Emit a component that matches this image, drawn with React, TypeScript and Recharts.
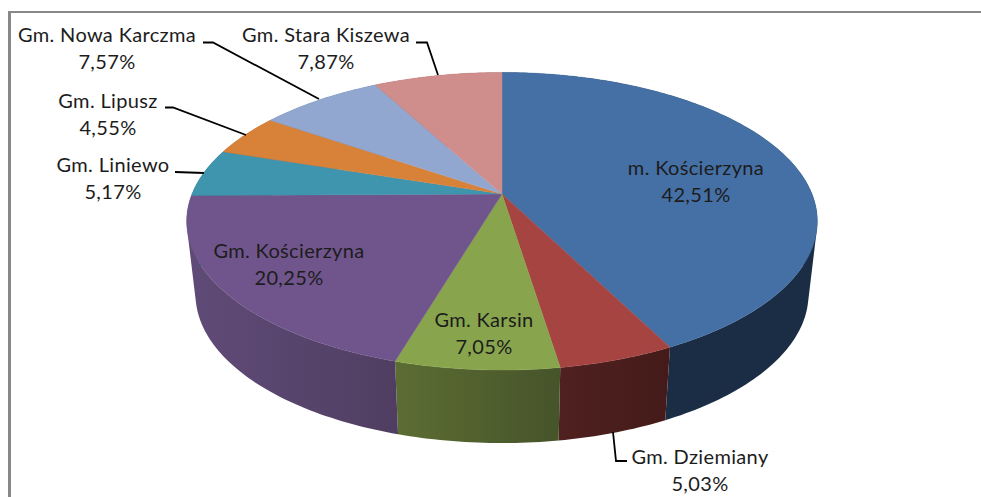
import React from 'react';
import { PieChart, Pie } from 'recharts';

// Shares of the communes, clockwise from 12 o'clock
const REGIONS = [
  'm. Kościerzyna',
  'Gm. Dziemiany',
  'Gm. Karsin',
  'Gm. Kościerzyna',
  'Gm. Liniewo',
  'Gm. Lipusz',
  'Gm. Nowa Karczma',
  'Gm. Stara Kiszewa',
];
const SHARES = [42.51, 5.03, 7.05, 20.25, 5.17, 4.55, 7.57, 7.87];

const TOP_COLORS = ['#4570a5', '#a54441', '#88a54d', '#70558c', '#3f94ae', '#d88239', '#91a7cf', '#cf8d8c'];
// left and right colour of the side wall
const WALL_COLORS = [
  ['#1a2d45', '#1a2d45'],
  ['#4f2120', '#441b1a'],
  ['#5c6d33', '#46542a'],
  ['#604b78', '#4f3e61'],
  ['#2a6374', '#2a6374'],
  ['#91572a', '#91572a'],
  ['#616f8a', '#616f8a'],
  ['#8a5e5d', '#8a5e5d'],
];

// Label placement: centre x, baseline of first line, optional leader line
const LABEL_LAYOUT: { x: number; y: number; leader?: string }[] = [
  { x: 696, y: 175 },
  { x: 700, y: 464, leader: '613,432 616,461 627,461' },
  { x: 484, y: 327 },
  { x: 289, y: 258 },
  { x: 113, y: 172, leader: '175,172 204,173' },
  { x: 108, y: 108, leader: '165,107.5 173,107.5 246,135' },
  { x: 107, y: 42, leader: '203,42.5 213,42.5 319,99' },
  { x: 326, y: 42, leader: '416,42.5 427,42.5 438,75' },
];

const pieData = REGIONS.map((name, i) => ({ name, value: SHARES[i], fill: TOP_COLORS[i] }));

const PIE_CX = 502;
const PIE_CY = 194;
const PIE_RADIUS = 310;
// fake 3D: disc tilted towards the viewer with some perspective
const TILT = 0.464;
const PERSPECTIVE = 0.183;
const DEPTH = 73;
const BOTTOM_SCALE = 0.972;

const rimPoint = (cx: number, cy: number, r: number, deg: number, bottom = false) => {
  const a = (deg * Math.PI) / 180;
  const w = 1 + PERSPECTIVE * Math.sin(a);
  const x = (r * Math.cos(a)) / w;
  const y = (r * TILT * Math.sin(a)) / w;
  return bottom ? [cx + x * BOTTOM_SCALE, cy - y + DEPTH] : [cx + x, cy - y];
};

const rimArc = (cx: number, cy: number, r: number, from: number, to: number, bottom = false) => {
  const steps = Math.max(2, Math.ceil(Math.abs(to - from)));
  const pts: number[][] = [];
  for (let i = 0; i <= steps; i++) {
    pts.push(rimPoint(cx, cy, r, from + ((to - from) * i) / steps, bottom));
  }
  return pts;
};

const TopFace = (props: any) => {
  const { cx, cy, outerRadius, startAngle, endAngle, fill } = props;
  const arc = rimArc(cx, cy, outerRadius, startAngle, endAngle).map((p) => p.join(','));
  return <path d={`M${cx},${cy}L${arc.join('L')}Z`} fill={fill} stroke={fill} strokeWidth={0.4} />;
};

const SideWall = (props: any) => {
  const { cx, cy, outerRadius, startAngle, endAngle, index } = props;
  const top = rimArc(cx, cy, outerRadius, startAngle, endAngle);
  const low = rimArc(cx, cy, outerRadius, startAngle, endAngle, true);
  // one quad per step so the silhouette tangents get filled as well
  const quads = top.slice(1).map((p, i) => {
    const q = [top[i], p, low[i + 1], low[i]];
    const area = q.reduce((sum, a, j) => {
      const b = q[(j + 1) % 4];
      return sum + a[0] * b[1] - b[0] * a[1];
    }, 0);
    const ordered = area < 0 ? [...q].reverse() : q;
    return `M${ordered.map((v) => v.join(',')).join('L')}Z`;
  });
  return <path d={quads.join('')} fill={`url(#wall-${index})`} />;
};

const renderLabel = (props: any) => {
  const { index } = props;
  const pos = LABEL_LAYOUT[index];
  const textStyle = { fontFamily: 'Lato', fontSize: 20, letterSpacing: 0.35, fill: '#1c1c1c' };
  return (
    <g key={REGIONS[index]}>
      {pos.leader && <polyline points={pos.leader} fill="none" stroke="#000" strokeWidth={1.8} />}
      <text x={pos.x} y={pos.y} textAnchor="middle" style={textStyle}>
        {REGIONS[index]}
      </text>
      <text x={pos.x} y={pos.y + 27} textAnchor="middle" style={textStyle}>
        {SHARES[index].toFixed(2).replace('.', ',')}%
      </text>
    </g>
  );
};

export default function App() {
  return (
    <div style={{ position: 'absolute', left: 0, top: 0, width: 981, height: 497, background: '#fff', overflow: 'hidden' }}>
      <div style={{ position: 'absolute', left: 8, top: 11, right: 0, bottom: 0, borderLeft: '3px solid #888', borderTop: '2px solid #888' }} />
      <PieChart width={981} height={497} margin={{ top: 0, right: 0, bottom: 0, left: 0 }} style={{ position: 'absolute', left: 0, top: 0 }}>
        <defs>
          {WALL_COLORS.map((c, i) => (
            <linearGradient key={i} id={`wall-${i}`} x1="0" y1="0" x2="1" y2="0">
              <stop offset="0%" stopColor={c[0]} />
              <stop offset="100%" stopColor={c[1]} />
            </linearGradient>
          ))}
        </defs>
        <Pie
          data={pieData}
          dataKey="value"
          cx={PIE_CX}
          cy={PIE_CY}
          outerRadius={PIE_RADIUS}
          startAngle={90}
          endAngle={-270}
          stroke="none"
          shape={SideWall}
          isAnimationActive={false}
        />
        <Pie
          data={pieData}
          dataKey="value"
          cx={PIE_CX}
          cy={PIE_CY}
          outerRadius={PIE_RADIUS}
          startAngle={90}
          endAngle={-270}
          stroke="none"
          shape={TopFace}
          label={renderLabel}
          labelLine={false}
          isAnimationActive={false}
        />
      </PieChart>
    </div>
  );
}
